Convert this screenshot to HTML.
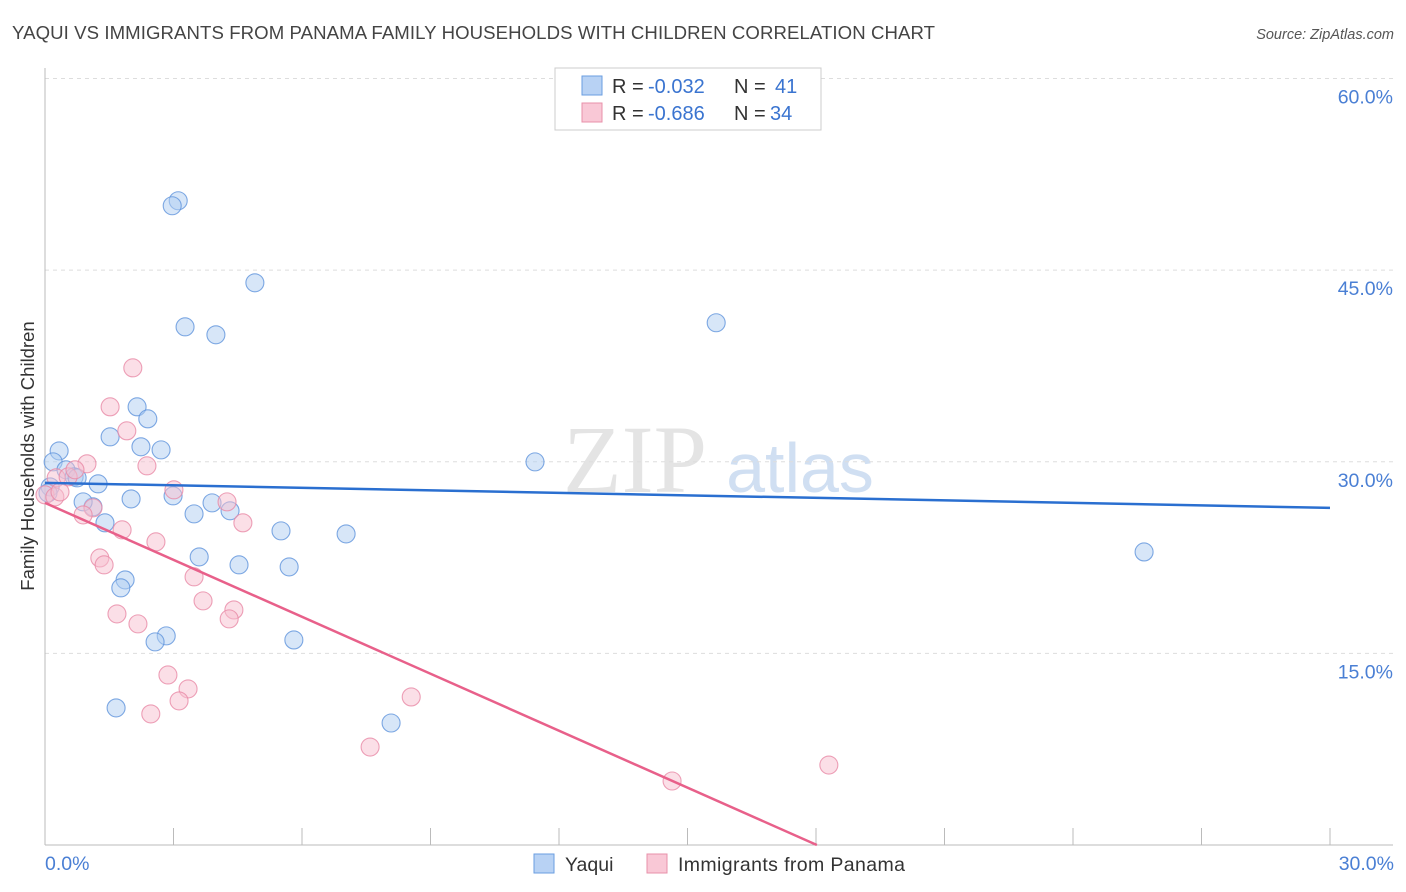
<!DOCTYPE html>
<html><head><meta charset="utf-8"><style>
body{margin:0;background:#fff;font-family:"Liberation Sans",sans-serif}
svg{display:block}
</style></head><body>
<svg width="1406" height="892" xmlns="http://www.w3.org/2000/svg" id="chart">
<text x="12" y="39" font-size="18.6" fill="#444" textLength="923">YAQUI VS IMMIGRANTS FROM PANAMA FAMILY HOUSEHOLDS WITH CHILDREN CORRELATION CHART</text>
<text x="1394" y="39" font-size="14.5" fill="#555" font-style="italic" text-anchor="end">Source: ZipAtlas.com</text>
<text x="635" y="492" font-size="96" fill="#e4e4e4" font-family="Liberation Serif,serif" text-anchor="middle">ZIP</text>
<text x="800" y="492" font-size="70" fill="#d0dff2" text-anchor="middle">atlas</text>
<g id="grid"></g>
<g id="axes"></g>
<g id="marks"></g>
<text transform="translate(34,456) rotate(-90)" font-size="18.5" fill="#333" text-anchor="middle">Family Households with Children</text>
<text x="45" y="870" font-size="19.5" fill="#4a7fd4">0.0%</text>
<text x="1394" y="870" font-size="19.5" fill="#4a7fd4" text-anchor="end">30.0%</text>
<g>
<rect x="555" y="68" width="266" height="62" fill="#fff" stroke="#ccc"/>
<rect x="582" y="76" width="20" height="19" fill="#b8d2f4" stroke="#6a9ee0"/>
<text x="612" y="93" font-size="20" fill="#333">R =</text>
<text x="648" y="93" font-size="20" fill="#3a74d0">-0.032</text>
<text x="734" y="93" font-size="20" fill="#333">N =</text>
<text x="775" y="93" font-size="20" fill="#3a74d0">41</text>
<rect x="582" y="103" width="20" height="19" fill="#f9c8d6" stroke="#e890aa"/>
<text x="612" y="120" font-size="20" fill="#333">R =</text>
<text x="648" y="120" font-size="20" fill="#3a74d0">-0.686</text>
<text x="734" y="120" font-size="20" fill="#333">N =</text>
<text x="770" y="120" font-size="20" fill="#3a74d0">34</text>
</g>
<g>
<rect x="534" y="854" width="20" height="19" fill="#b8d2f4" stroke="#6a9ee0"/>
<text x="565" y="871" font-size="19.5" fill="#333">Yaqui</text></g>
<g>
<rect x="647" y="854" width="20" height="19" fill="#f9c8d6" stroke="#e890aa"/>
<text x="678" y="871" font-size="19.5" fill="#333" textLength="227">Immigrants from Panama</text></g>
</svg>
<script>
const yTicks=[15,30,45,60];
const yTickLabels=["15.0%","30.0%","45.0%","60.0%"];
const xTicks=[0,3,6,9,12,15,18,21,24,27,30];
const yaquiX=[3.11,2.97,4.90,3.27,3.99,15.67,2.15,2.40,1.52,2.24,2.71,0.33,0.19,11.44,0.49,0.68,1.24,0.12,0.07,2.01,2.99,3.90,1.12,4.32,3.48,1.40,5.51,7.03,3.60,4.53,5.70,25.66,1.87,1.77,2.83,2.57,5.81,1.66,8.08,0.89,0.75];
const yaquiY=[50.43,50.04,44.01,40.56,39.94,40.88,34.30,33.36,31.95,31.17,30.93,30.85,29.99,29.99,29.37,28.82,28.27,28.03,27.56,27.09,27.33,26.78,26.47,26.16,25.92,25.22,24.59,24.35,22.55,21.93,21.77,22.94,20.75,20.13,16.37,15.90,16.05,10.73,9.55,26.86,28.74];
const panamaX=[2.05,1.52,1.91,2.38,0.98,3.01,0.26,0.54,0.00,0.23,1.12,0.89,4.25,4.62,1.80,2.59,1.28,1.38,3.48,3.69,4.41,4.30,1.68,2.17,2.87,3.34,3.13,2.47,8.55,7.59,14.64,18.30,0.35,0.70];
const panamaY=[37.35,34.30,32.42,29.68,29.84,27.80,28.74,28.82,27.41,27.25,26.39,25.84,26.86,25.22,24.67,23.73,22.47,21.93,20.99,19.11,18.40,17.70,18.09,17.31,13.31,12.22,11.28,10.26,11.59,7.67,5.01,6.26,27.64,29.37];
const yaquiTrend=[28.35,26.39];
const panamaTrend=[26.78,18.02];
const NS="http://www.w3.org/2000/svg";
const X=v=>45+v*42.833;
const Y=v=>845-v*12.775;
function mk(tag,attrs,parent){const e=document.createElementNS(NS,tag);for(const k in attrs)e.setAttribute(k,attrs[k]);parent.appendChild(e);return e;}
const grid=document.getElementById('grid'),axes=document.getElementById('axes'),marks=document.getElementById('marks');
yTicks.forEach((t,i)=>{
 const l=mk('line',{x1:45,x2:1393,y1:Y(t),y2:Y(t),stroke:'#ddd','stroke-dasharray':'4,4'},grid);
 
 
 const tx=mk('text',{x:1393,y:Y(t)+25,'font-size':19.5,fill:'#4a7fd4','text-anchor':'end'},grid);
 tx.textContent=yTickLabels[i];
 
 
});
const ya=mk('line',{x1:45,x2:45,y1:68,y2:845,stroke:'#bbb'},axes);


const xa=mk('line',{x1:45,x2:1393,y1:845,y2:845,stroke:'#bbb'},axes);


xTicks.forEach(t=>{
 const l=mk('line',{x1:X(t),x2:X(t),y1:828,y2:845,stroke:'#bbb'},axes);
 
 
});
function pts(xs,ys,fill,stroke,name){
 xs.forEach((x,i)=>{
  const c=mk('circle',{cx:X(x),cy:Y(ys[i]),r:9,fill:fill,'fill-opacity':0.5,stroke:stroke,'stroke-opacity':0.8,'stroke-width':1.1},marks);
  
  
 });
}
pts(yaquiX,yaquiY,'#b0cdf2','#5f93dc','yaqui-point');
pts(panamaX,panamaY,'#f7c0d0','#e88aa6','panama-point');
const bl=mk('line',{x1:X(0),y1:Y(yaquiTrend[0]),x2:X(30),y2:Y(yaquiTrend[1]),stroke:'#2a6fd0','stroke-width':2.5},marks);


const pl=mk('line',{x1:X(0),y1:Y(panamaTrend[0]),x2:X(panamaTrend[1]),y2:Y(0),stroke:'#e8608a','stroke-width':2.5},marks);


</script>
</body></html>
